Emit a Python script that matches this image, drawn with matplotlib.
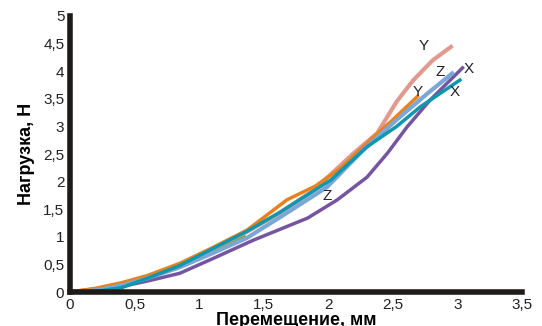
import matplotlib.pyplot as plt
import matplotlib.ticker as ticker

plt.rcParams['font.family'] = ['Liberation Sans', 'DejaVu Sans']

# series (displacement mm, load N)
pink_x = [0, 0.2, 0.4, 0.6, 0.85, 1.1, 1.37, 1.6, 1.88, 2.19, 2.38, 2.53, 2.66, 2.81, 2.95]
pink_y = [0, 0.05, 0.15, 0.28, 0.5, 0.78, 1.09, 1.4, 1.83, 2.5, 2.88, 3.45, 3.84, 4.2, 4.44]

orange_x = [0, 0.2, 0.4, 0.6, 0.85, 1.1, 1.37, 1.68, 1.9, 2.1, 2.3, 2.5, 2.69]
orange_y = [0, 0.07, 0.17, 0.3, 0.52, 0.8, 1.12, 1.67, 1.92, 2.25, 2.7, 3.12, 3.54]

green_x = [0, 0.4, 0.85, 1.1, 1.35]
green_y = [0, 0.12, 0.45, 0.72, 1.0]

blue_x = [0, 0.2, 0.4, 0.6, 0.85, 1.1, 1.37, 1.63, 1.99, 2.27, 2.53, 2.77, 2.96]
blue_y = [0, 0.03, 0.12, 0.25, 0.45, 0.7, 0.98, 1.36, 1.9, 2.57, 3.12, 3.6, 3.96]

teal_x = [0, 0.2, 0.4, 0.6, 0.85, 1.1, 1.37, 1.63, 2.02, 2.3, 2.53, 2.71, 3.02]
teal_y = [0, 0.01, 0.08, 0.25, 0.48, 0.78, 1.1, 1.45, 2.03, 2.63, 3.0, 3.35, 3.84]

purple_x = [0, 0.2, 0.4, 0.6, 0.85, 1.1, 1.42, 1.84, 2.07, 2.3, 2.46, 2.61, 2.79, 3.04]
purple_y = [0, 0.02, 0.1, 0.2, 0.34, 0.6, 0.94, 1.34, 1.67, 2.08, 2.52, 2.99, 3.48, 4.06]

# curve labels
lab_text = ['Y', 'Y', 'Z', 'X', 'X', 'Z']
lab_x = [2.74, 2.69, 2.87, 3.09, 2.98, 1.99]
lab_y = [4.45, 3.62, 3.99, 4.04, 3.62, 1.74]

fig = plt.figure(figsize=(5.42, 3.26), dpi=100)
ax = fig.add_axes([0.129, 0.104, 0.834, 0.847])

ax.plot(green_x, green_y, color='#7aa33a', lw=2.5)
ax.plot(purple_x, purple_y, color='#7554a0', lw=2.5)
ax.plot(pink_x, pink_y, color='#e39a8e', lw=3)
ax.plot(orange_x, orange_y, color='#e8821e', lw=2.5)
ax.plot(blue_x, blue_y, color='#7ba7d6', lw=3)
ax.plot(teal_x, teal_y, color='#0e97ad', lw=2.5)

for t, x, y in zip(lab_text, lab_x, lab_y):
    ax.text(x, y, t, fontsize=11, color='#222222', ha='center', va='center')

ax.set_xlim(0, 3.5)
ax.set_ylim(0, 5)
ax.xaxis.set_major_locator(ticker.MultipleLocator(0.5))
ax.yaxis.set_major_locator(ticker.MultipleLocator(0.5))
fmt = ticker.FuncFormatter(lambda v, p: ('%g' % v).replace('.', ','))
ax.xaxis.set_major_formatter(fmt)
ax.yaxis.set_major_formatter(fmt)

for s in ['top', 'right']:
    ax.spines[s].set_visible(False)
for s in ['left', 'bottom']:
    ax.spines[s].set_linewidth(4)
    ax.spines[s].set_color('#1e1a17')

ax.tick_params(direction='in', length=1.5, width=1.5, color='#8a94a0',
               labelsize=11, labelcolor='#222222', pad=4)

ax.set_xlabel('Перемещение, мм', fontsize=13, fontweight='bold', labelpad=0)
ax.set_ylabel('Нагрузка, Н', fontsize=13, fontweight='bold', labelpad=6)

fig.savefig('out.png', dpi=100)
